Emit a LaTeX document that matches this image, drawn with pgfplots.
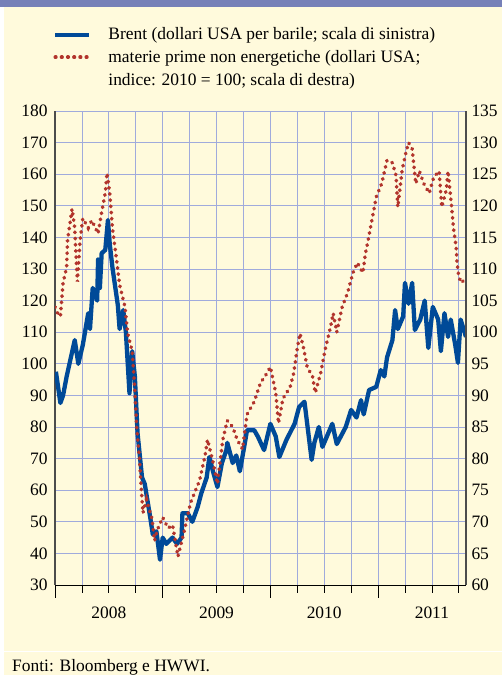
\documentclass[border=0pt]{standalone}
\usepackage{fontspec}
\setmainfont{Liberation Serif}
\usepackage{pgfplots}
\pgfplotsset{compat=1.18}
\definecolor{cream}{RGB}{255,250,220}
\definecolor{topbar}{RGB}{118,128,184}
\definecolor{brent}{RGB}{0,74,152}
\definecolor{comm}{RGB}{178,52,44}
\definecolor{gridc}{RGB}{160,170,220}
\tikzset{commline/.style={color=comm, line width=3.6bp, line cap=round, dash pattern=on 0.6bp off 5.6bp}}
\begin{document}
\begin{tikzpicture}
\useasboundingbox (0bp,0bp) rectangle (502bp,675bp);
\fill[white] (0bp,0bp) rectangle (502bp,675bp);
\fill[cream] (4bp,0bp) rectangle (502bp,668bp);
\fill[white] (4bp,23bp) rectangle (502bp,24.2bp);
\fill[topbar] (0bp,668bp) rectangle (502bp,675bp);
\node[anchor=base west, inner sep=0pt, font=\fontsize{17.5}{21}\selectfont] at (12bp,4bp) {Fonti: Bloomberg e HWWI.};
\begin{axis}[
  at={(55bp,90bp)}, anchor=south west, scale only axis,
  width=411bp, height=474bp,
  xmin=0, xmax=45.8, ymin=30, ymax=180,
  axis x line*=bottom, axis y line*=left,
  x axis line style={black, line width=0.8bp, -},
  y axis line style={black!70, line width=1.5bp, -},
  xtick={0,12,24,36}, xticklabels={},
  minor xtick={3,6,9,15,18,21,27,30,33,39,42,45},
  tick align=outside,
  major tick length=13bp, minor tick length=8bp,
  xtick style={black, line width=0.8bp},
  ytick={30,40,...,180}, ytick style={draw=none},
  yticklabel style={xshift=9bp},
  xmajorgrids, xminorgrids, ymajorgrids,
  major grid style={gridc, line width=0.8bp},
  minor grid style={gridc, line width=0.8bp},
  extra x ticks={6,18,30,42}, extra x tick labels={2008,2009,2010,2011},
  extra x tick style={xmajorgrids=false, major tick length=0pt, tick style={draw=none}, tick label style={yshift=-18bp}},
  ticklabel style={font=\fontsize{17.5}{21}\selectfont},
  /pgf/number format/assume math mode=true,
  /pgf/number format/1000 sep={},
  legend cell align=left,
  legend style={at={(-0.005,1.18)}, anchor=north west, draw=none, fill=none,
    font=\fontsize{17.5}{21}\selectfont, row sep=5bp, column sep=15bp, inner sep=0pt},
  legend image code/.code={\draw[#1] (0bp,0bp) -- (34bp,0bp);},
]
\addplot[brent, line width=4.3bp, line join=round] coordinates {
(0.1,97.5)(0.6,87.6)(0.9,90)(1.3,96)(2.2,107.5)(2.6,100)(3.1,106)(3.7,116)(3.9,111)
(4.2,124)(4.7,120)(4.8,133)(5.0,124)(5.2,135)(5.6,136)(5.9,145.5)(6.1,138)(6.4,130.5)
(7.0,118.6)(7.2,111)(7.6,117)(7.9,110)(8.3,90.7)(8.6,104)(8.9,96)(9.2,78)(9.7,64)
(10.0,62)(10.6,51.6)(10.9,46)(11.3,47)(11.7,38)(12.0,45)(12.4,43)(13.1,45)(13.6,43)
(14.1,45)(14.2,52.7)(14.8,52.7)(15.3,50)(15.9,54.7)(16.3,59)(16.9,64)(17.2,70.5)
(17.6,66)(18.1,61)(18.6,68.6)(19.1,72.7)(19.2,75)(19.8,68.6)(20.2,71)(20.6,66)(21.1,74)
(21.4,79)(22.2,79)(22.6,77)(23.3,72.7)(24.0,81)(24.6,77)(25.0,70.5)(25.8,76)(26.7,81)
(27.2,86.3)(27.8,88)(28.6,69.6)(28.9,75)(29.4,80)(29.8,73.7)(30.9,81)(31.4,74.6)
(32.4,80)(33.0,85.4)(33.6,83)(34.1,88.5)(34.4,84)(35.0,91.7)(35.8,92.7)(36.3,98)
(36.7,96)(37.0,102)(37.6,107.5)(37.9,117)(38.2,111)(38.8,115)(39.0,125.6)(39.4,119)
(39.8,125.6)(40.1,110.7)(40.7,114)(41.2,120)(41.6,105)(42.1,118)(42.7,114)(43.0,104)
(43.4,116)(43.8,108.5)(44.1,114)(44.6,106)(44.9,100.3)(45.2,114)(45.8,108.5)
};
\addlegendentry{Brent (dollari USA per barile; scala di sinistra)}
\addlegendimage{commline}
\addlegendentry{materie prime non energetiche (dollari USA;}
\addlegendimage{empty legend}
\addlegendentry{indice: 2010 = 100; scala di destra)}
\end{axis}
\begin{axis}[
  at={(55bp,90bp)}, anchor=south west, scale only axis,
  width=411bp, height=474bp,
  xmin=0, xmax=45.8, ymin=60, ymax=135,
  axis x line=none, axis y line*=right,
  y axis line style={black!70, line width=1.5bp, -},
  ytick={60,65,...,135}, ytick style={draw=none},
  yticklabel style={xshift=2bp},
  ticklabel style={font=\fontsize{17.5}{21}\selectfont},
  /pgf/number format/assume math mode=true,
]
\addplot[commline] coordinates {
(0.0,104)(0.3,103)(0.6,102.5)(0.9,107.8)(1.3,110.3)(1.4,114.6)(1.9,119.5)(2.2,116.5)
(2.4,110.3)(2.5,108)(2.8,114.6)(3.1,118)(3.7,116.5)(4.1,117.7)(4.8,115.6)(5.2,119)
(5.6,122)(5.8,125.2)(6.1,122)(6.4,116.5)(6.9,111)(7.2,107.5)(7.8,104)(8.1,99.8)
(8.6,97)(8.9,90.8)(9.1,85)(9.4,80.3)(9.6,75.5)(9.8,71.4)(10.2,73.5)(10.8,70.5)
(11.1,67)(11.4,68.7)(12.0,70.7)(12.6,69)(13.1,69.5)(13.7,64.5)(14.4,68.5)(15.1,73)
(16.1,76.5)(16.7,80.3)(17.0,83)(17.6,79.5)(18.1,76)(18.7,83)(19.2,86)(19.8,85)
(20.3,83)(20.9,81.5)(21.4,87)(22.2,89)(22.9,92)(23.4,93)(24.0,94.5)(24.6,90.4)
(24.9,85.6)(25.4,89.5)(26.2,91.3)(26.6,93.5)(27.0,97.5)(27.3,99.8)(27.7,97.5)
(28.1,94.5)(28.7,93)(29.0,90.4)(29.6,93.5)(30.1,97.2)(30.7,100.8)(31.0,103)(31.4,100)
(32.0,104)(32.6,106.2)(32.9,107.8)(33.2,109.4)(33.7,111)(34.3,109.4)(34.6,112.5)
(34.9,114.6)(35.8,121.4)(36.4,123.5)(37.0,127.2)(37.6,126.8)(38.0,124.8)(38.2,119.8)
(38.7,125.8)(39.1,128.4)(39.4,130)(39.8,129)(40.2,123.5)(40.6,125.5)(41.1,123.5)
(41.7,122)(42.2,124.5)(42.8,125.5)(43.1,119.8)(43.6,122.5)(43.8,125.5)(44.2,119.8)
(44.4,116.5)(44.7,113.5)(44.8,111)(45.0,108.7)(45.3,107.8)(45.8,108.7)
};
\end{axis}
\end{tikzpicture}
\end{document}
